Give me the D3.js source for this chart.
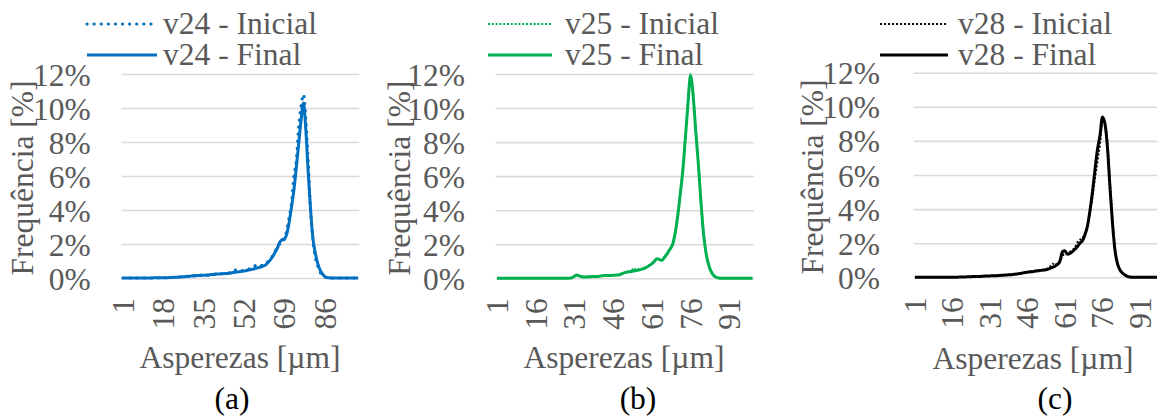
<!DOCTYPE html>
<html>
<head>
<meta charset="utf-8">
<script src="https://cdn.jsdelivr.net/npm/d3@7"></script>
</head>
<body style="margin:0; background:#ffffff">
<svg id="svg-chart" width="1157" height="420" style="display:block"></svg>
<script>
//////////////////////////////////////////////////////////////////////////////////////////
// Data (frequency in %, one value per roughness class 1..100)
//////////////////////////////////////////////////////////////////////////////////////////

var categories = d3.range(1, 101)

var y_ticks = [0, 2, 4, 6, 8, 10, 12]
var x_ticks_a = [1, 18, 35, 52, 69, 86]
var x_ticks_bc = [1, 16, 31, 46, 61, 76, 91]

var series_names = {
  'a': ['v24 - Inicial', 'v24 - Final'],
  'b': ['v25 - Inicial', 'v25 - Final'],
  'c': ['v28 - Inicial', 'v28 - Final']
}

var v24_inicial = [
  0, 0, 0, 0, 0, 0, 0, 0, 0, 0,
  0, 0, 0, 0.01, 0.01, 0.01, 0.02, 0.02, 0.02, 0.03,
  0.03, 0.04, 0.05, 0.05, 0.06, 0.07, 0.08, 0.1, 0.11, 0.12,
  0.13, 0.15, 0.16, 0.17, 0.18, 0.16, 0.15, 0.18, 0.21, 0.22,
  0.24, 0.25, 0.27, 0.28, 0.3, 0.3, 0.33, 0.45, 0.47, 0.4,
  0.42, 0.46, 0.5, 0.52, 0.55, 0.6, 0.75, 0.7, 0.72, 0.76,
  0.85, 0.95, 1.1, 1.3, 1.55, 1.85, 2.0, 2.05, 2.3, 2.8,
  3.6, 4.4, 6.0, 6.9, 8.9, 10.1, 10.8, 9.3, 6.9, 4.0,
  2.2, 1.2, 0.7, 0.35, 0.15, 0.05, 0.02, 0.01, 0, 0,
  0, 0, 0, 0, 0, 0, 0, 0, 0, 0
]
var v24_final = [
  0, 0, 0, 0, 0, 0, 0, 0, 0, 0,
  0, 0, 0, 0.01, 0.01, 0.01, 0.01, 0.02, 0.02, 0.02,
  0.03, 0.03, 0.04, 0.05, 0.06, 0.07, 0.08, 0.09, 0.1, 0.12,
  0.13, 0.14, 0.15, 0.15, 0.16, 0.17, 0.18, 0.2, 0.21, 0.23,
  0.24, 0.24, 0.25, 0.26, 0.27, 0.29, 0.31, 0.33, 0.35, 0.37,
  0.39, 0.41, 0.44, 0.47, 0.5, 0.53, 0.57, 0.61, 0.65, 0.7,
  0.76, 0.9, 1.06, 1.25, 1.5, 1.75, 2.1, 2.25, 2.3, 2.6,
  3.3, 4.2, 5.2, 6.5, 7.9, 9.3, 10.3, 8.7, 6.2, 4.0,
  2.3, 1.45, 0.86, 0.47, 0.24, 0.08, 0.03, 0.01, 0, 0,
  0, 0, 0, 0, 0, 0, 0, 0, 0, 0
]
var v25_inicial = [
  0, 0, 0, 0, 0, 0, 0, 0, 0, 0,
  0, 0, 0, 0, 0, 0, 0, 0, 0, 0,
  0, 0, 0, 0, 0, 0, 0, 0, 0.01, 0.03,
  0.12, 0.19, 0.13, 0.09, 0.08, 0.08, 0.09, 0.1, 0.1, 0.11,
  0.13, 0.15, 0.16, 0.17, 0.17, 0.18, 0.19, 0.21, 0.25, 0.31,
  0.35, 0.38, 0.42, 0.6, 0.47, 0.55, 0.54, 0.6, 0.66, 0.76,
  0.87, 1.0, 1.1, 1.15, 1.08, 1.27, 1.48, 1.72, 2.0, 2.65,
  3.7, 4.9, 6.4, 8.3, 10.3, 12.0, 10.9, 8.8, 7.0, 4.8,
  2.8, 1.55, 0.82, 0.4, 0.17, 0.06, 0.02, 0, 0, 0,
  0, 0, 0, 0, 0, 0, 0, 0, 0, 0
]
var v25_final = [
  0, 0, 0, 0, 0, 0, 0, 0, 0, 0,
  0, 0, 0, 0, 0, 0, 0, 0, 0, 0,
  0, 0, 0, 0, 0, 0, 0, 0, 0.01, 0.03,
  0.12, 0.2, 0.13, 0.09, 0.08, 0.08, 0.09, 0.1, 0.1, 0.11,
  0.13, 0.15, 0.16, 0.16, 0.17, 0.18, 0.19, 0.2, 0.24, 0.3,
  0.35, 0.38, 0.4, 0.43, 0.45, 0.48, 0.52, 0.58, 0.65, 0.75,
  0.85, 1.0, 1.15, 1.1, 1.06, 1.25, 1.45, 1.7, 1.95, 2.6,
  3.6, 4.9, 6.3, 8.2, 10.2, 11.9, 10.8, 8.7, 6.8, 4.6,
  2.7, 1.5, 0.8, 0.4, 0.17, 0.06, 0.02, 0, 0, 0,
  0, 0, 0, 0, 0, 0, 0, 0, 0, 0
]
var v28_inicial = [
  0, 0, 0, 0, 0, 0, 0, 0, 0, 0,
  0, 0, 0, 0, 0.01, 0.01, 0.01, 0.01, 0.02, 0.02,
  0.02, 0.03, 0.03, 0.04, 0.04, 0.05, 0.05, 0.06, 0.07, 0.08,
  0.08, 0.09, 0.09, 0.1, 0.11, 0.12, 0.13, 0.14, 0.15, 0.16,
  0.18, 0.2, 0.22, 0.25, 0.28, 0.3, 0.32, 0.35, 0.38, 0.4,
  0.42, 0.44, 0.46, 0.5, 0.6, 0.8, 0.7, 0.85, 0.95, 1.25,
  1.4, 1.45, 1.5, 1.6, 1.75, 2.05, 2.2, 2.3, 2.6, 3.0,
  3.8, 4.7, 5.8, 6.8, 7.8, 9.1, 9.0, 7.9, 5.6, 3.4,
  1.7, 0.85, 0.45, 0.26, 0.14, 0.06, 0.02, 0, 0, 0,
  0, 0, 0, 0, 0, 0, 0, 0, 0, 0
]
var v28_final = [
  0, 0, 0, 0, 0, 0, 0, 0, 0, 0,
  0, 0, 0, 0, 0.01, 0.01, 0.01, 0.01, 0.02, 0.02,
  0.02, 0.03, 0.03, 0.04, 0.04, 0.05, 0.05, 0.06, 0.07, 0.08,
  0.08, 0.09, 0.09, 0.1, 0.11, 0.12, 0.13, 0.14, 0.15, 0.16,
  0.18, 0.2, 0.22, 0.25, 0.28, 0.3, 0.32, 0.33, 0.36, 0.38,
  0.4, 0.42, 0.43, 0.47, 0.52, 0.58, 0.65, 0.75, 0.95, 1.5,
  1.55, 1.35, 1.4, 1.5, 1.65, 1.8, 2.0, 2.15, 2.5, 3.0,
  3.9, 5.0, 6.3, 7.5, 8.3, 9.4, 9.0, 7.6, 5.3, 3.2,
  1.6, 0.8, 0.43, 0.25, 0.14, 0.06, 0.02, 0, 0, 0,
  0, 0, 0, 0, 0, 0, 0, 0, 0, 0
]

//////////////////////////////////////////////////////////////////////////////////////////
// Panel layout
//////////////////////////////////////////////////////////////////////////////////////////

var font_family = '"Liberation Serif", "Times New Roman", serif'
var font_size = '31.5px'
var text_gray = '#595959'

var panels = [
  {
    id: 'a', inicial: v24_inicial, final: v24_final, x_ticks: x_ticks_a,
    color: '#0070C0', dot_width: 3.2, dot_dash: '0.1,7', dot_cap: 'round',
    left: 121.7, right: 359.3, top: 74, bottom: 278,
    y_label_gap: 31, y_title_x: 33, x_title_x: 240, x_title_y: 368,
    legend_x0: 87, legend_x1: 157, legend_text_x: 163, label_x: 232
  },
  {
    id: 'b', inicial: v25_inicial, final: v25_final, x_ticks: x_ticks_bc,
    color: '#00B050', dot_width: 2, dot_dash: '2,1.8', dot_cap: 'butt',
    left: 495.7, right: 753.7, top: 74, bottom: 278.3,
    y_label_gap: 30.7, y_title_x: 410, x_title_x: 624, x_title_y: 368,
    legend_x0: 488, legend_x1: 552, legend_text_x: 565, label_x: 638
  },
  {
    id: 'c', inicial: v28_inicial, final: v28_final, x_ticks: x_ticks_bc,
    color: '#000000', dot_width: 2, dot_dash: '2,2', dot_cap: 'butt',
    left: 913.7, right: 1163.7, top: 72.7, bottom: 277.3,
    y_label_gap: 33.7, y_title_x: 823, x_title_x: 1033, x_title_y: 369,
    legend_x0: 880, legend_x1: 948, legend_text_x: 958, label_x: 1055
  }
]

panels.forEach(draw_panel)

//////////////////////////////////////////////////////////////////////////////////////////
// Helpers
//////////////////////////////////////////////////////////////////////////////////////////

function style_text(sel, color) {
  return sel
    .style('font-family', font_family)
    .style('font-size', font_size)
    .style('fill', color || text_gray)
}

//////////////////////////////////////////////////////////////////////////////////////////
// Draw one panel
//////////////////////////////////////////////////////////////////////////////////////////

function draw_panel(p) {
  var svg = d3.select('#svg-chart')
  var g = svg.append('g').attr('id', 'g-panel-' + p.id)

  var x = d3.scaleBand()
    .domain(categories)
    .range([p.left, p.right])
    .paddingInner(0)
    .paddingOuter(0)

  var y = d3.scaleLinear()
    .domain([0, 12])
    .range([p.bottom, p.top])

  var half = x.bandwidth() / 2

  // Gridlines + y tick labels
  var y_axis = g.append('g')
    .attr('transform', 'translate(' + p.left + ',0)')
    .call(d3.axisLeft(y)
      .tickValues(y_ticks)
      .tickSize(-(p.right - p.left))
      .tickPadding(p.y_label_gap)
      .tickFormat(function(d) { return d + '%' }))

  y_axis.select('.domain').remove()
  y_axis.selectAll('line')
    .attr('stroke', '#d9d9d9')
    .attr('stroke-width', 1.6)
  y_axis.selectAll('text')
    .attr('dy', '0.35em')
    .call(style_text)

  // X tick labels (rotated)
  var x_axis = g.append('g')
    .attr('transform', 'translate(0,' + p.bottom + ')')
    .call(d3.axisBottom(x)
      .tickValues(p.x_ticks)
      .tickSize(0))

  x_axis.select('.domain').remove()
  x_axis.selectAll('text')
    .attr('x', 0)
    .attr('y', 0)
    .attr('dy', '0.35em')
    .attr('text-anchor', 'end')
    .attr('transform', 'translate(0,20) rotate(-90)')
    .call(style_text)

  // Series lines
  var line = d3.line()
    .x(function(d, i) { return x(categories[i]) + half })
    .y(function(d) { return y(d) })
    .curve(d3.curveMonotoneX)

  g.append('path')
    .datum(p.inicial)
    .attr('fill', 'none')
    .attr('stroke', p.color)
    .attr('stroke-width', p.dot_width)
    .attr('stroke-dasharray', p.dot_dash)
    .attr('stroke-linecap', p.dot_cap)
    .attr('d', line)

  g.append('path')
    .datum(p.final)
    .attr('fill', 'none')
    .attr('stroke', p.color)
    .attr('stroke-width', 3)
    .attr('stroke-linejoin', 'round')
    .attr('d', line)

  // Axis titles
  g.append('text')
    .attr('text-anchor', 'middle')
    .attr('transform', 'translate(' + p.y_title_x + ',' + ((p.top + p.bottom) / 2 + 2) + ') rotate(-90)')
    .text('Frequência [%]')
    .call(style_text)

  g.append('text')
    .attr('text-anchor', 'middle')
    .attr('x', p.x_title_x)
    .attr('y', p.x_title_y)
    .text('Asperezas [µm]')
    .call(style_text)

  // Legend
  var names = series_names[p.id]
  var legend_rows = [
    { name: names[0], y: 24, dotted: true },
    { name: names[1], y: 55, dotted: false }
  ]

  legend_rows.forEach(function(r) {
    var line_el = g.append('line')
      .attr('x1', p.legend_x0)
      .attr('x2', p.legend_x1)
      .attr('y1', r.y)
      .attr('y2', r.y)
      .attr('stroke', p.color)

    if (r.dotted) {
      line_el
        .attr('stroke-width', p.dot_width)
        .attr('stroke-dasharray', p.dot_dash)
        .attr('stroke-linecap', p.dot_cap)
    } else {
      line_el.attr('stroke-width', 3)
    }

    g.append('text')
      .attr('x', p.legend_text_x)
      .attr('y', r.y + 10)
      .text(r.name)
      .call(style_text)
  })

  // Panel label
  g.append('text')
    .attr('text-anchor', 'middle')
    .attr('x', p.label_x)
    .attr('y', 409)
    .text('(' + p.id + ')')
    .call(style_text, '#000000')
}
</script>
</body>
</html>
